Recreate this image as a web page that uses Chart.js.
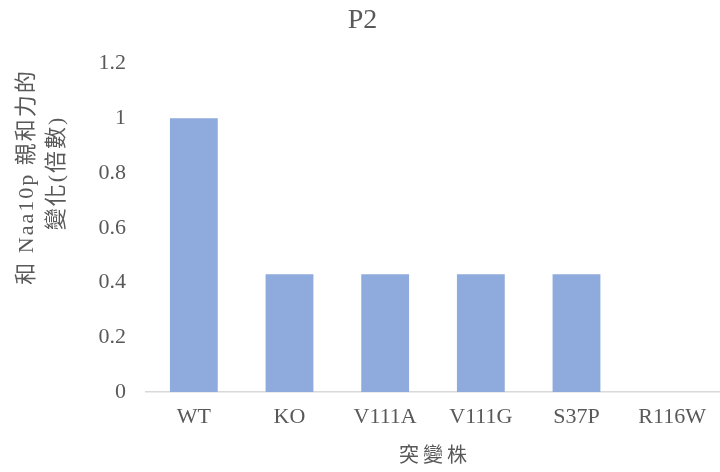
<!DOCTYPE html>
<html>
<head>
<meta charset="utf-8">
<script src="https://cdn.jsdelivr.net/npm/chart.js@4"></script>
<style>
  html, body { margin: 0; padding: 0; background: #fff; }
  #wrap { width: 720px; height: 472px; }
</style>
</head>
<body>
<div id="wrap"><canvas id="p2Chart"></canvas></div>
<script>
// P2 突變株與 Naa10p 親和力變化（倍數）
const strains = ["WT", "KO", "V111A", "V111G", "S37P", "R116W"];
const foldChange = [1, 0.43, 0.43, 0.43, 0.43, 0];
const yTicks = [0, 0.2, 0.4, 0.6, 0.8, 1, 1.2];
const yTitle = ["和 Naa10p 親和力的", "變化(倍數)"];
const xTitle = "突變株";

const SERIF = '"Times New Roman", "Liberation Serif", "Noto Sans CJK TC", serif';
const GRAY = "#595959";

// 軸標題字距較寬，自行畫在畫布上
function spacedText(ctx, text, x, y, spacing) {
  ctx.letterSpacing = spacing + "px";
  const w = ctx.measureText(text).width - spacing;
  ctx.fillText(text, x - w / 2, y);
  ctx.letterSpacing = "0px";
}

const axisTitles = {
  id: "axisTitles",
  afterDraw(chart) {
    const c = chart.ctx;
    const area = chart.chartArea;
    c.save();
    c.fillStyle = GRAY;
    c.textBaseline = "middle";
    c.textAlign = "left";

    c.font = "20px " + SERIF;
    spacedText(c, xTitle, (area.left + area.right) / 2, 457, 4);

    c.rotate(-Math.PI / 2);
    c.font = "22px " + SERIF;
    spacedText(c, yTitle[0], -178, 27, 2);
    spacedText(c, yTitle[1], -174, 57, 2);
    c.restore();
  },
};

(function () {
  const ctx = document.getElementById("p2Chart");
  new Chart(ctx, {
    type: "bar",
    data: {
      labels: strains,
      datasets: [{
        data: foldChange,
        backgroundColor: "#8faadc",
        borderWidth: 0,
        barPercentage: 0.5,
        categoryPercentage: 1,
      }],
    },
    plugins: [axisTitles],
    options: {
      responsive: true,
      maintainAspectRatio: false,
      animation: false,
      layout: { padding: { left: 0, right: -5, top: 0, bottom: 0 } },
      plugins: {
        legend: { display: false },
        tooltip: { enabled: false },
        title: {
          display: true,
          text: "P2",
          color: GRAY,
          font: { family: SERIF, size: 28, weight: "normal" },
          padding: { top: 4, bottom: 26 },
        },
      },
      scales: {
        x: {
          grid: { display: false },
          border: { display: true, color: "#d9d9d9", width: 1.5 },
          ticks: { color: GRAY, font: { family: SERIF, size: 22 }, padding: 4, maxRotation: 0 },
          afterFit: (s) => { s.height = 80; },
        },
        y: {
          min: 0,
          max: 1.2,
          grid: { display: false },
          border: { display: false },
          afterBuildTicks: (s) => { s.ticks = yTicks.map((v) => ({ value: v })); },
          ticks: {
            color: GRAY,
            font: { family: SERIF, size: 22 },
            padding: 12,
            callback: (v) => String(Math.round(v * 10) / 10),
          },
          afterFit: (s) => { s.width = 146; },
        },
      },
    },
  });
})();
</script>
</body>
</html>
